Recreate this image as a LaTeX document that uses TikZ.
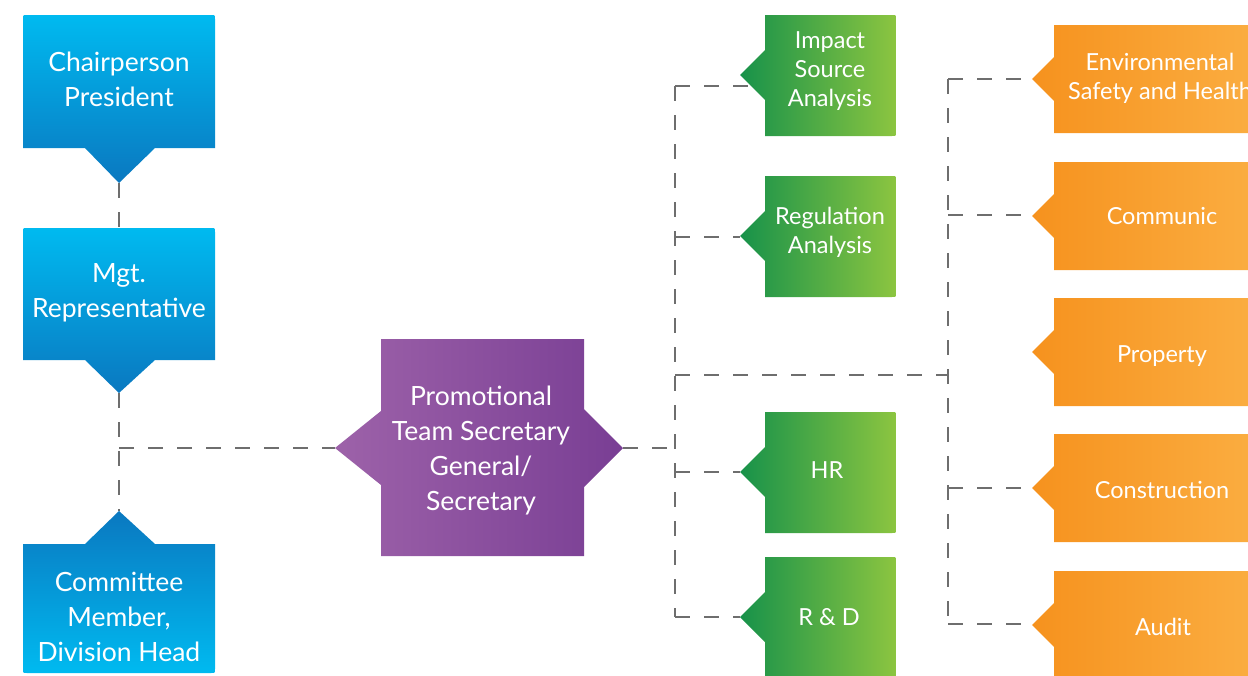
\documentclass[tikz,border=0pt]{standalone}
\usepackage{fontspec}
\setmainfont{Lato}
\definecolor{bluelt}{HTML}{00BAF0}
\definecolor{bluedk}{HTML}{0A78C0}
\definecolor{purlt}{HTML}{9D62A9}
\definecolor{purdk}{HTML}{793E94}
\definecolor{grdk}{HTML}{17924A}
\definecolor{grlt}{HTML}{8CC540}
\definecolor{ordk}{HTML}{F6921E}
\definecolor{orlt}{HTML}{FBAF43}
\definecolor{conncol}{HTML}{6E6E6E}
\newcommand{\greenshape}[1]{%
  \shade[left color=grdk, right color=grlt]
    (765,#1) -- (892,#1) .. controls (896,#1) .. (896,{#1+4})
    -- (896,{#1+117}) .. controls (896,{#1+121}) .. (892,{#1+121})
    -- (765,{#1+121}) -- (765,{#1+85}) -- (740,{#1+60}) -- (765,{#1+35}) -- cycle;}
\newcommand{\orangeshape}[1]{%
  \shade[left color=ordk, right color=orlt]
    (1054,#1) -- (1270,#1) -- (1270,{#1+108}) -- (1054,{#1+108})
    -- (1054,{#1+76}) -- (1032,{#1+54}) -- (1054,{#1+32}) -- cycle;}
\begin{document}
\begin{tikzpicture}[x=1pt,y=-1pt,
  conn/.style={draw=conncol, line width=1.4pt, dash pattern=on 15pt off 14pt},
  bigtxt/.style={text=white, align=center, inner sep=0pt, font=\fontsize{26.5}{35}\selectfont},
  smalltxt/.style={text=white, align=center, inner sep=0pt, font=\fontsize{23.5}{29}\selectfont}]
\useasboundingbox (0,0) rectangle (1248,675);
\clip (0,0) rectangle (1248,675);
% anchor coordinates
\coordinate (chairTip) at (119,183);
\coordinate (mgtTop) at (119,228);
\coordinate (mgtTip) at (119,393);
\coordinate (commTip) at (119,511);
\coordinate (leftJ) at (119,448);
\coordinate (promL) at (335,448);
\coordinate (promR) at (623,448);
\coordinate (busAmid) at (675,448);
\coordinate (busAtop) at (675,86);
\coordinate (busAbot) at (675,617);
\coordinate (impIn) at (748,86);
\coordinate (busAreg) at (675,237);
\coordinate (regIn) at (740,237);
\coordinate (busAhr) at (675,472);
\coordinate (hrIn) at (740,472);
\coordinate (rdIn) at (740,617);
\coordinate (busAlink) at (675,375);
\coordinate (busBlink) at (948,375);
\coordinate (busBtop) at (948,79);
\coordinate (busBbot) at (948,624);
\coordinate (envIn) at (1032,79);
\coordinate (busBcom) at (948,215);
\coordinate (comIn) at (1032,215);
\coordinate (busBcon) at (948,488);
\coordinate (conIn) at (1032,488);
\coordinate (audIn) at (1032,624);
% connectors
\draw[conn] (chairTip) -- (mgtTop);
\draw[conn] (mgtTip) -- (commTip);
\draw[conn] (leftJ) -- (promL);
\draw[conn] (promR) -- (busAmid);
\draw[conn] (busAtop) -- (busAbot);
\draw[conn] (busAtop) -- (impIn);
\draw[conn] (busAreg) -- (regIn);
\draw[conn] (busAhr) -- (hrIn);
\draw[conn] (busAbot) -- (rdIn);
\draw[conn] (busAlink) -- (busBlink);
\draw[conn] (busBtop) -- (busBbot);
\draw[conn] (busBtop) -- (envIn);
\draw[conn] (busBcom) -- (comIn);
\draw[conn] (busBcon) -- (conIn);
\draw[conn] (busBbot) -- (audIn);
% blue boxes
\shade[top color=bluelt, bottom color=bluedk]
  (23,148) -- (23,19) .. controls (23,15) .. (27,15) -- (211,15) .. controls (215,15) .. (215,19)
  -- (215,148) -- (155,148) -- (119,183) -- (85,148) -- cycle;
\shade[top color=bluelt, bottom color=bluedk]
  (23,360) -- (23,232) .. controls (23,228) .. (27,228) -- (211,228) .. controls (215,228) .. (215,232)
  -- (215,360) -- (155,360) -- (119,393) -- (85,360) -- cycle;
\shade[top color=bluedk, bottom color=bluelt]
  (85,544) -- (119,511) -- (155,544) -- (215,544) -- (215,669) .. controls (215,673) .. (211,673)
  -- (27,673) .. controls (23,673) .. (23,669) -- (23,544) -- cycle;
% purple
\shade[left color=purlt, right color=purdk]
  (381,339) -- (584,339) -- (584,409) -- (623,448) -- (584,487) -- (584,556)
  -- (381,556) -- (381,485) -- (335,448) -- (381,411) -- cycle;
% green
\greenshape{15}
\greenshape{176}
\greenshape{412}
\greenshape{557}
% orange
\orangeshape{25}
\orangeshape{162}
\orangeshape{298}
\orangeshape{434}
\orangeshape{571}
% texts
\node[bigtxt] (chair) at (119,79) {Chairperson\\President};
\node[bigtxt] (mgt) at (119,293) {Mgt.\\Representative};
\node[bigtxt] (comm) at (119,617) {Committee\\Member,\\Division Head};
\node[bigtxt] (prom) at (481,451) {Promotional\\Team Secretary\\General/\\Secretary};
\node[smalltxt] (imp) at (830,71) {Impact\\Source\\Analysis};
\node[smalltxt] (reg) at (830,232) {Regulation\\Analysis};
\node[smalltxt] (hr) at (827,470) {HR};
\node[smalltxt] (rd) at (829,617) {R \& D};
\node[smalltxt] (env) at (1160,78) {Environmental\\Safety and Health};
\node[smalltxt] (com) at (1162,216) {Communic};
\node[smalltxt] (prop) at (1162,356) {Property};
\node[smalltxt] (cons) at (1162,490) {Construction};
\node[smalltxt] (aud) at (1163,627) {Audit};
\end{tikzpicture}
\end{document}
